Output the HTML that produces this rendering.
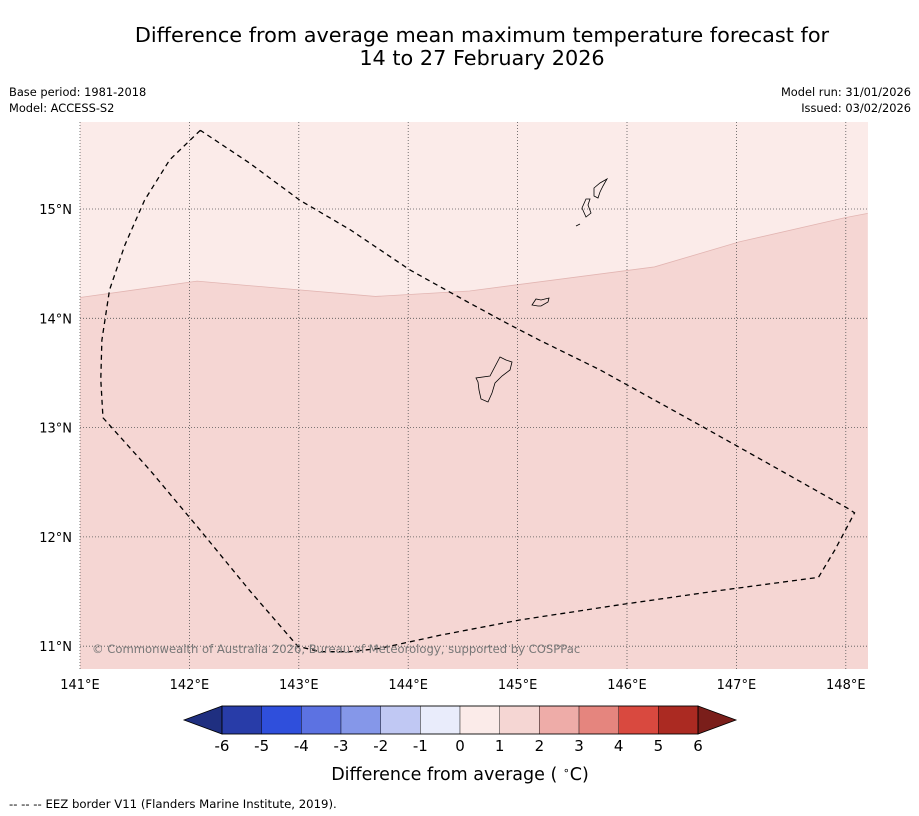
<!DOCTYPE html>
<html><head><meta charset="utf-8"><style>
body{margin:0;background:#fff;font-family:"DejaVu Sans","Liberation Sans",sans-serif}
svg{display:block;font-family:"DejaVu Sans","Liberation Sans",sans-serif}
</style></head><body>
<svg width="919" height="816" xmlns="http://www.w3.org/2000/svg" id="chart">
<text x="482" y="42" font-size="20.8" text-anchor="middle">Difference from average mean maximum temperature forecast for</text>
<text x="482" y="65" font-size="20.8" text-anchor="middle">14 to 27 February 2026</text>
<text x="9" y="96" font-size="11.4">Base period: 1981-2018</text>
<text x="9" y="112" font-size="11.4">Model: ACCESS-S2</text>
<text x="911" y="96" font-size="11.4" text-anchor="end">Model run: 31/01/2026</text>
<text x="911" y="112" font-size="11.4" text-anchor="end">Issued: 03/02/2026</text>
<g id="map"></g>
<g id="cbar"></g>
<text x="460" y="780" font-size="17.5" text-anchor="middle">Difference from average ( <tspan dy="-6" font-size="11">∘</tspan><tspan dy="6">C)</tspan></text>
<text x="9" y="808" font-size="11.7">--  --  -- EEZ border V11 (Flanders Marine Institute, 2019).</text>
</svg>
<script>
const lonTicks=[141,142,143,144,145,146,147,148];
const latTicks=[15,14,13,12,11];
const boundaryLon=[141,142.07,143.7,144.56,146.25,147.03,147.99,148.2];
const boundaryLat=[14.19,14.34,14.2,14.25,14.47,14.7,14.92,14.96];
const eezLon=[142.10,141.82,141.59,141.41,141.27,141.20,141.19,141.21,141.64,142.10,142.55,142.99,143.19,143.47,143.74,144.29,145.02,145.94,146.85,147.75,147.90,148.08,148.02,147.40,146.67,145.75,145.20,144.93,144.56,144.02,143.47,143.01,142.55,142.10];
const eezLat=[15.72,15.45,15.08,14.67,14.26,13.80,13.44,13.09,12.61,12.06,11.51,11.00,10.95,10.95,10.98,11.10,11.24,11.38,11.51,11.63,11.88,12.22,12.26,12.61,13.02,13.53,13.80,13.94,14.14,14.44,14.81,15.08,15.42,15.72];
const cbarLevels=[-6,-5,-4,-3,-2,-1,0,1,2,3,4,5,6];
const cbarColors=["#283ca8","#2f4fdc","#5c72e2","#8597e9","#c0c8f3","#e9ecfb","#fbebe9","#f5d6d3","#eeaca8","#e5857e","#d9493f","#ab2a22"];
const NS="http://www.w3.org/2000/svg";
const X=lon=>80+(lon-141)*109.4;
const Y=lat=>209-(lat-15)*109.3;
function mk(p,t,a){const e=document.createElementNS(NS,t);for(const k in a)e.setAttribute(k,a[k]);p.appendChild(e);return e;}
const map=document.getElementById('map');
const L=80,R=868,T=122,B=669;
const bg=mk(map,'rect',{x:L,y:T,width:R-L,height:B-T,fill:'#fbebe9'});


let d=`M${L},${B} `+boundaryLon.map((v,i)=>`L${X(v)},${Y(boundaryLat[i])}`).join(' ')+` L${R},${B} Z`;
const lo=mk(map,'path',{d:d,fill:'#f5d6d3'});


const bl=mk(map,'path',{d:boundaryLon.map((v,i)=>(i?'L':'M')+X(v)+','+Y(boundaryLat[i])).join(' '),fill:'none',stroke:'#e2b5b2','stroke-width':0.8});


lonTicks.forEach(v=>{
 const g=mk(map,'line',{x1:X(v),x2:X(v),y1:T,y2:B,stroke:'#555','stroke-width':0.8,'stroke-dasharray':'1,2'});
 
 
 const t=mk(map,'text',{x:X(v),y:689,'font-size':13,'text-anchor':'middle'});t.textContent=v+'°E';
 
 
});
latTicks.forEach(v=>{
 const g=mk(map,'line',{x1:L,x2:R,y1:Y(v),y2:Y(v),stroke:'#555','stroke-width':0.8,'stroke-dasharray':'1,2'});
 
 
 const t=mk(map,'text',{x:72,y:Y(v)+5,'font-size':13,'text-anchor':'end'});t.textContent=v+'°N';
 
 
});
const isl=["M500,357 L506,360 L512,362 L510,370 L502,376 L495,383 L492,393 L488,402 L481,399 L479,390 L478,382 L476,378 L490,376 Z",
"M532,305 L536,299 L541,300 L549,298 L548,302 L541,306 L538,306 Z",
"M582,208 L586,199 L590,199 L588,205 L591,213 L586,217 Z",
"M594,188 L600,183 L607,179 L603,186 L600,192 L598,198 L594,196 Z",
"M576,226 L580,224"];
isl.forEach(p=>{const e=mk(map,'path',{d:p,fill:'none',stroke:'#000','stroke-width':0.8});
 
 });
const eez=mk(map,'path',{d:eezLon.map((v,i)=>(i?'L':'M')+X(v)+','+Y(eezLat[i])).join(' '),fill:'none',stroke:'#000','stroke-width':1.3,'stroke-dasharray':'5,4'});


const cp=mk(map,'text',{x:92,y:653,'font-size':11.6,fill:'#777'});cp.textContent='© Commonwealth of Australia 2026, Bureau of Meteorology, supported by COSPPac';


const cb=document.getElementById('cbar');
const cx0=222,cw=39.67,cy=706,ch=28;
const lt=mk(cb,'path',{d:`M${cx0},${cy} L184,${cy+ch/2} L${cx0},${cy+ch} Z`,fill:'#1f2f80',stroke:'#000','stroke-width':0.8});


cbarColors.forEach((c,i)=>{const r=mk(cb,'rect',{x:cx0+i*cw,y:cy,width:cw,height:ch,fill:c,stroke:'#000','stroke-width':0.4});
 
 });
const xe=cx0+cbarColors.length*cw;
const rt=mk(cb,'path',{d:`M${xe},${cy} L736,${cy+ch/2} L${xe},${cy+ch} Z`,fill:'#7a1e1a',stroke:'#000','stroke-width':0.8});


mk(cb,'rect',{x:cx0,y:cy,width:xe-cx0,height:ch,fill:'none',stroke:'#000','stroke-width':0.8});
cbarLevels.forEach((v,i)=>{const t=mk(cb,'text',{x:cx0+i*cw,y:751,'font-size':15,'text-anchor':'middle'});t.textContent=v;
 
 });
</script>
</body></html>
